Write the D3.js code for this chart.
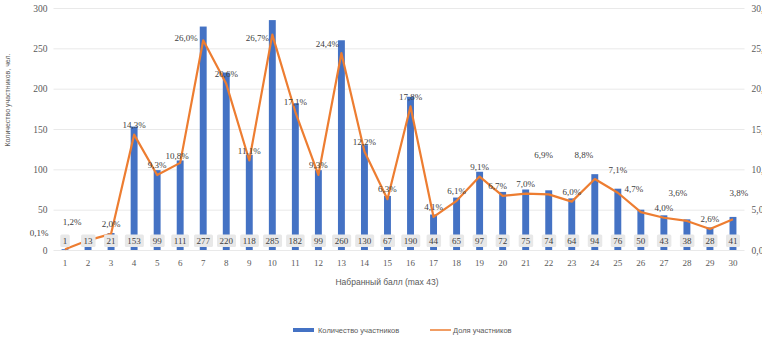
<!DOCTYPE html>
<html>
<head>
<meta charset="utf-8">
<script src="https://cdn.jsdelivr.net/npm/d3@7"></script>
<style>
  body { margin: 0; background: #fff; }
  #chart { width: 762px; height: 341px; }
</style>
</head>
<body>
<div id="chart"></div>
<script>
// Chart data
const scores = d3.range(1, 31).map(String);
const counts = [1, 13, 21, 153, 99, 111, 277, 220, 118, 285, 182, 99, 260, 130, 67,
                190, 44, 65, 97, 72, 75, 74, 64, 94, 76, 50, 43, 38, 28, 41];
const shares = [0.1, 1.2, 2.0, 14.3, 9.3, 10.8, 26.0, 20.6, 11.1, 26.7, 17.1, 9.3, 24.4, 12.2, 6.3,
                17.8, 4.1, 6.1, 9.1, 6.7, 7.0, 6.9, 6.0, 8.8, 7.1, 4.7, 4.0, 3.6, 2.6, 3.8];
const countTicks = [0, 50, 100, 150, 200, 250, 300];
const shareTicks = [0, 5, 10, 15, 20, 25, 30];
const seriesNames = ["Количество участников", "Доля участников"];

// Manual label nudges (px) for the percent labels, like the hand-moved labels in the original
const labelNudge = {
    0: [-26, -6], 1: [-16, -8], 5: [-3, 3], 6: [-17, 8], 9: [-15, 13], 12: [-14, 1],
    19: [-5, 0], 21: [-5, -29], 23: [-11, -14], 24: [0, -13], 25: [-7, -13],
    27: [-9, -18], 29: [6, -16]
};

const W = 762, H = 341;
const plot = { left: 53.5, right: 744.5, top: 8, bottom: 250 };
const blue = "#4472C4", orange = "#ED7D31", grey = "#595959";
const serif = "'Liberation Serif', 'DejaVu Serif', serif";
const sans = "'Liberation Sans', 'DejaVu Sans', sans-serif";

const svg = d3.select("#chart").append("svg")
    .attr("width", W)
    .attr("height", H);

// Scales
const x = d3.scaleBand().domain(scores).range([plot.left, plot.right])
    .paddingInner(0.7).paddingOuter(0.35);
const y = d3.scaleLinear().domain([0, 300]).range([plot.bottom, plot.top]);
const y2 = d3.scaleLinear().domain([0, 30]).range([plot.bottom, plot.top]);
const cx = d => x(d) + x.bandwidth() / 2;

// Gridlines
svg.append("g")
    .attr("transform", `translate(${plot.left},0)`)
    .call(d3.axisLeft(y).tickValues(countTicks).tickSize(-(plot.right - plot.left)).tickFormat(""))
    .call(g => g.select(".domain").remove())
    .call(g => g.selectAll("line").attr("stroke", "#e3e3e3").attr("stroke-width", 0.8));

// Left axis
svg.append("g")
    .attr("transform", `translate(${plot.left - 6},0)`)
    .call(d3.axisLeft(y).tickValues(countTicks).tickSize(0).tickPadding(0))
    .call(g => g.select(".domain").remove())
    .call(g => g.selectAll("text").attr("fill", grey).style("font-family", serif).style("font-size", "9.5px"));

// Right axis
svg.append("g")
    .attr("transform", `translate(${plot.right + 7},0)`)
    .call(d3.axisRight(y2).tickValues(shareTicks).tickSize(0).tickPadding(0)
        .tickFormat(d => d.toFixed(1).replace(".", ",") + "%"))
    .call(g => g.select(".domain").remove())
    .call(g => g.selectAll("text").attr("fill", grey).style("font-family", serif).style("font-size", "9.5px"));

// Bottom axis
svg.append("g")
    .attr("transform", `translate(0,${plot.bottom})`)
    .call(d3.axisBottom(x).tickSize(0).tickPadding(10))
    .call(g => g.select(".domain").remove())
    .call(g => g.selectAll("text").attr("fill", grey).style("font-family", serif).style("font-size", "9px"));

// Axis titles
svg.append("text")
    .attr("transform", "translate(10,100) rotate(-90)")
    .attr("text-anchor", "middle")
    .attr("fill", grey)
    .style("font-family", sans)
    .style("font-size", "7px")
    .text("Количество участников, чел.");

svg.append("text")
    .attr("x", 387)
    .attr("y", 285)
    .attr("text-anchor", "middle")
    .attr("fill", grey)
    .style("font-family", sans)
    .style("font-size", "8.5px")
    .text("Набранный балл (max 43)");

// Bars
svg.append("g").selectAll("rect")
    .data(counts)
    .join("rect")
    .attr("x", (d, i) => x(scores[i]))
    .attr("y", d => y(d))
    .attr("width", x.bandwidth())
    .attr("height", d => y(0) - y(d))
    .attr("fill", blue);

// Line
const line = d3.line()
    .x((d, i) => cx(scores[i]))
    .y(d => y2(d));

svg.append("path")
    .datum(shares)
    .attr("d", line)
    .attr("fill", "none")
    .attr("stroke", orange)
    .attr("stroke-width", 2.2)
    .attr("stroke-linejoin", "round");

// Count labels (boxes at the bar base)
const countLabels = svg.append("g").selectAll("g")
    .data(counts)
    .join("g")
    .attr("transform", (d, i) => `translate(${cx(scores[i])},241)`);

countLabels.append("text")
    .attr("text-anchor", "middle")
    .attr("dy", "0.35em")
    .attr("fill", "#404040")
    .style("font-family", serif)
    .style("font-size", "9px")
    .text(d => d);

countLabels.each(function() {
    const g = d3.select(this);
    const b = g.select("text").node().getBBox();
    g.insert("rect", "text")
        .attr("x", b.x - 2.5)
        .attr("y", -6.5)
        .attr("width", b.width + 5)
        .attr("height", 12.5)
        .attr("rx", 1.5)
        .attr("fill", "#e8e8e8");
});

// Percent labels
svg.append("g").selectAll("text")
    .data(shares)
    .join("text")
    .attr("x", (d, i) => cx(scores[i]) + (labelNudge[i] ? labelNudge[i][0] : 0))
    .attr("y", (d, i) => y2(d) - 10 + (labelNudge[i] ? labelNudge[i][1] : 0))
    .attr("dy", "0.35em")
    .attr("text-anchor", "middle")
    .attr("fill", "#404040")
    .style("font-family", serif)
    .style("font-size", "9px")
    .text(d => d.toFixed(1).replace(".", ",") + "%");

// Legend
const legend = svg.append("g").attr("transform", "translate(0,330)");
legend.append("rect")
    .attr("x", 293).attr("y", -2).attr("width", 21).attr("height", 4)
    .attr("fill", blue);
legend.append("text")
    .attr("x", 318).attr("dy", "0.35em")
    .attr("fill", grey)
    .style("font-family", sans).style("font-size", "7.5px")
    .text(seriesNames[0]);
legend.append("line")
    .attr("x1", 430).attr("x2", 451)
    .attr("stroke", orange).attr("stroke-width", 1.5);
legend.append("text")
    .attr("x", 453).attr("dy", "0.35em")
    .attr("fill", grey)
    .style("font-family", sans).style("font-size", "7.5px")
    .text(seriesNames[1]);
</script>
</body>
</html>
